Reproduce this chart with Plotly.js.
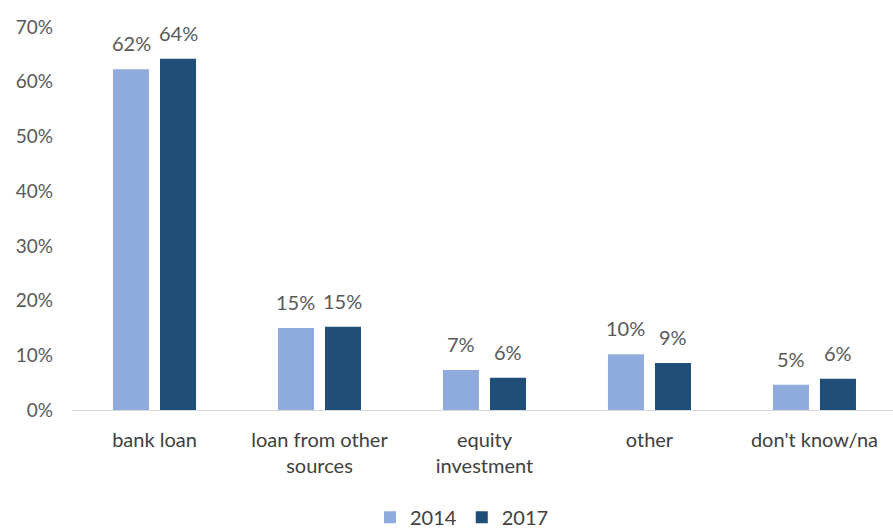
<!DOCTYPE html>
<html>
<head>
<meta charset="utf-8">
<script src="https://cdn.plot.ly/plotly-3.0.1.min.js"></script>
<style>html,body{margin:0;padding:0;background:#fff;}#chart{width:893px;height:530px;}</style>
</head>
<body>
<div id="chart"></div>
<script>
const categories = ["bank loan", "loan from other<br>sources", "equity<br>investment", "other", "don't know/na"];
const values2014 = [0.623, 0.150, 0.073, 0.102, 0.046];
const values2017 = [0.642, 0.152, 0.059, 0.086, 0.057];
const seriesNames = ["2014", "2017"];
const yTickVals = [0, 0.1, 0.2, 0.3, 0.4, 0.5, 0.6, 0.7];
const yTickText = ["0%", "10%", "20%", "30%", "40%", "50%", "60%", "70%"];

const font = "Lato, 'Open Sans', sans-serif";
const colors = ["#8FAADC", "#1F4E79"];
const allSeries = [values2014, values2017];

const data = allSeries.map((vals, i) => ({
  type: "bar", name: seriesNames[i], x: categories, y: vals,
  marker: {color: colors[i]}, hoverinfo: "skip"
}));

// value labels placed above each bar (offset to the bar's slot in the group)
const annotations = [];
allSeries.forEach((vals, i) => {
  vals.forEach((v, j) => {
    annotations.push({
      x: categories[j], y: v, xref: "x", yref: "y",
      text: Math.round(v * 100) + "%", showarrow: false,
      xanchor: "center", yanchor: "bottom",
      xshift: i === 0 ? -23.5 : 23.5, yshift: 12,
      font: {family: font, size: 20, color: "#595959"}
    });
  });
});

const layout = {
  width: 893, height: 530,
  margin: {l: 72, r: 0, t: 27, b: 120, autoexpand: false},
  paper_bgcolor: "#fff", plot_bgcolor: "#fff",
  font: {family: font, color: "#404040"},
  bargap: 0.43, bargroupgap: 0.234,
  xaxis: {
    range: [-0.5, 4.476], showgrid: false, showline: true, linecolor: "#D9D9D9", linewidth: 1,
    automargin: false,
    tickfont: {family: font, size: 20, color: "#404040"}, ticks: "", ticklabelstandoff: 12, fixedrange: true
  },
  yaxis: {
    range: [0, 0.7], tickvals: yTickVals, ticktext: yTickText, showgrid: false, zeroline: false,
    showline: false, ticks: "", ticklabelstandoff: 18, automargin: false,
    tickfont: {family: font, size: 19, color: "#595959"}, fixedrange: true
  },
  annotations: annotations,
  showlegend: true,
  legend: {orientation: "h", x: 0.475, xanchor: "center", y: -0.28, yanchor: "middle",
    font: {family: font, size: 20, color: "#404040"}, itemwidth: 30, tracegroupgap: 0}
};
Plotly.newPlot("chart", data, layout, {displayModeBar: false, staticPlot: true});
</script>
</body>
</html>
